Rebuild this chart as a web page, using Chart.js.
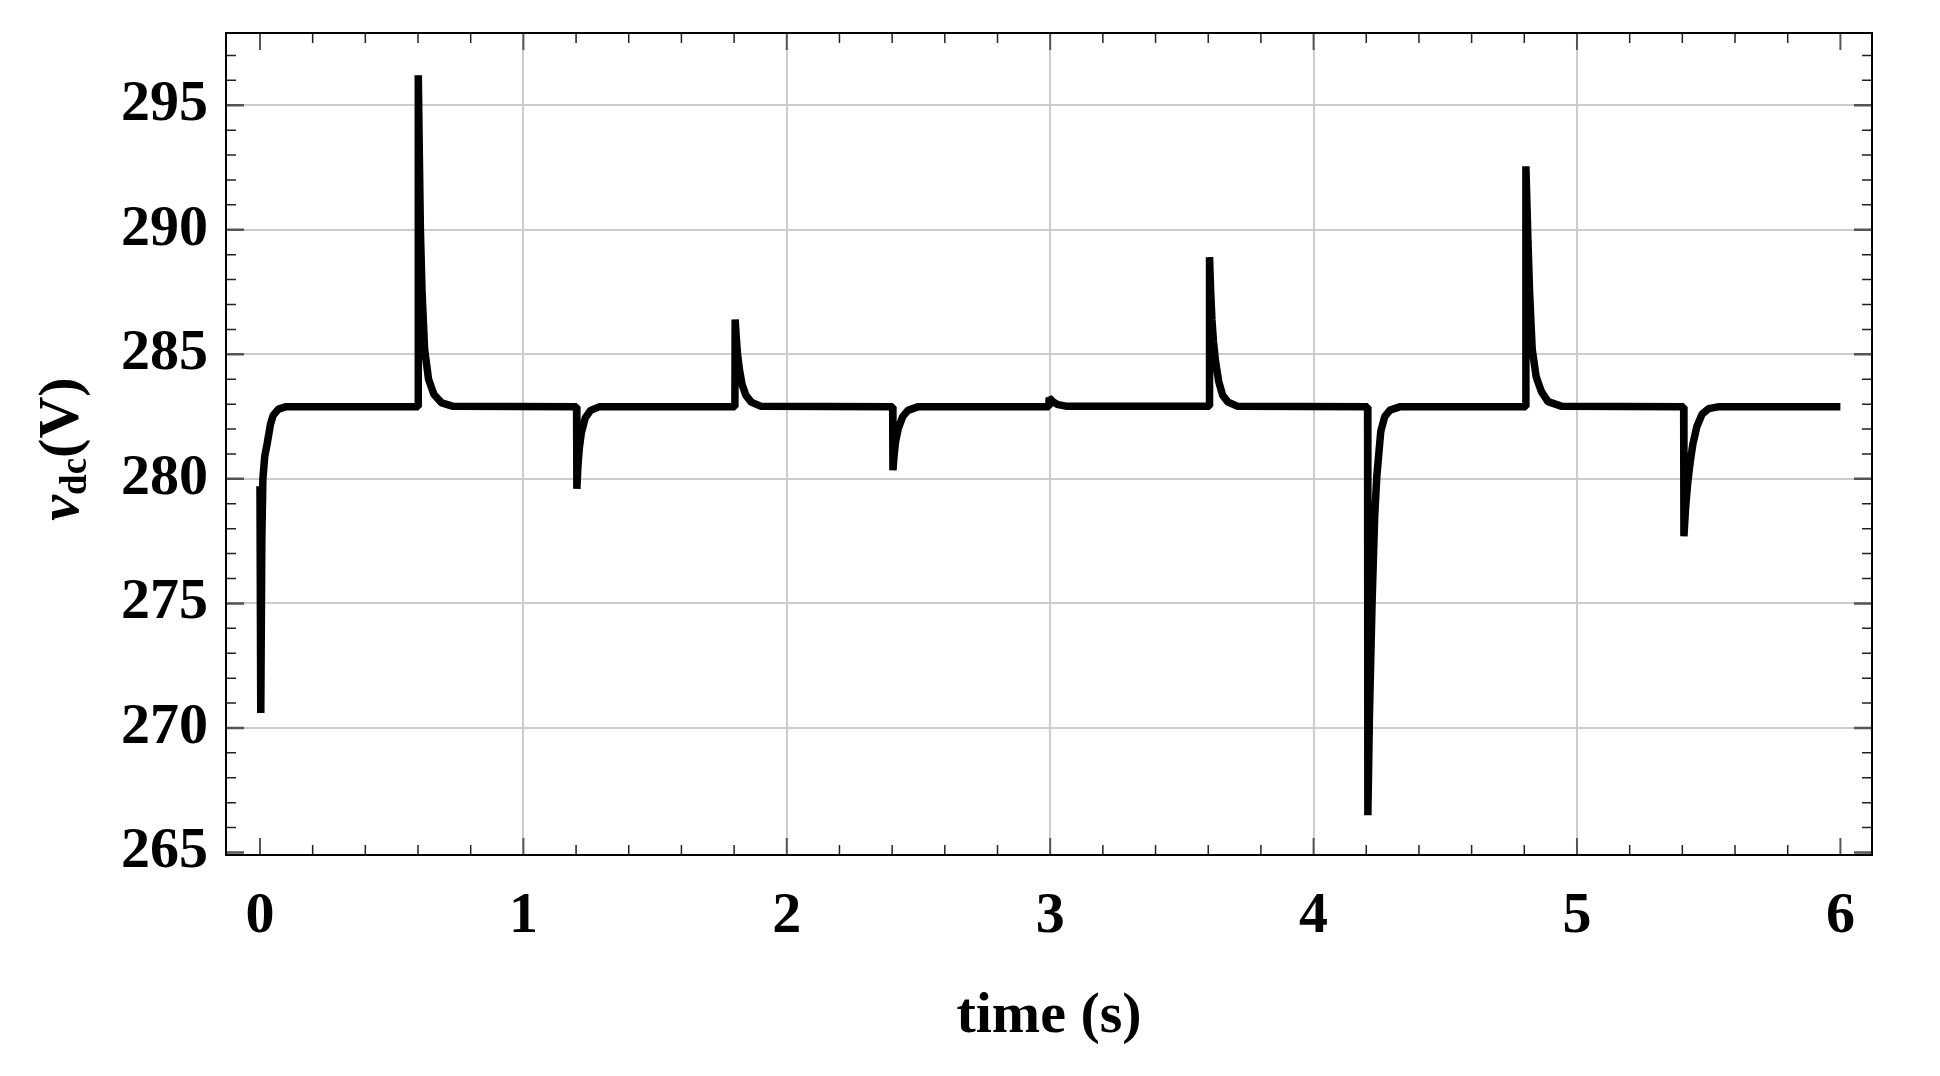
<!DOCTYPE html>
<html>
<head>
<meta charset="utf-8">
<script src="https://cdn.jsdelivr.net/npm/chart.js@4.4.0/dist/chart.umd.min.js"></script>
<style>
    html, body { margin: 0; padding: 0; background: #ffffff; }
</style>
</head>
<body>
<canvas id="vdcChart" width="1940" height="1076"></canvas>
<script>
// time (s) and dc-link voltage (V)
const timeValues = [
    0, 0.003, 0.007, 0.011, 0.018, 0.027, 0.04, 0.05, 0.07, 0.1,
    0.6, 0.601, 0.605, 0.609, 0.615, 0.625, 0.64, 0.66, 0.69, 0.73,
    1.202, 1.203, 1.207, 1.212, 1.22, 1.235, 1.255, 1.29,
    1.803, 1.804, 1.808, 1.813, 1.82, 1.83, 1.845, 1.865, 1.9,
    2.402, 2.403, 2.407, 2.413, 2.424, 2.44, 2.46, 2.5,
    2.995, 2.996, 3.01, 3.03, 3.06,
    3.604, 3.605, 3.609, 3.614, 3.62, 3.628, 3.64, 3.655, 3.675, 3.71,
    4.205, 4.206, 4.212, 4.222, 4.232, 4.24, 4.255, 4.27, 4.29, 4.33,
    4.805, 4.806, 4.81, 4.814, 4.82, 4.83, 4.845, 4.865, 4.89, 4.94,
    5.405, 5.406, 5.412, 5.42, 5.43, 5.44, 5.455, 5.475, 5.5, 5.54,
    6.0
];
const vdcValues = [
    279.7, 270.6, 277.5, 280.0, 280.9, 281.4, 282.2, 282.55, 282.8, 282.9,
    282.9, 296.2, 293.0, 290.0, 287.6, 285.2, 284.0, 283.4, 283.05, 282.92,
    282.9, 279.6, 280.5, 281.2, 281.85, 282.45, 282.75, 282.9,
    282.9, 286.4, 285.7, 285.0, 284.4, 283.8, 283.35, 283.08, 282.92,
    282.9, 280.35, 280.9, 281.5, 282.05, 282.5, 282.75, 282.9,
    282.9, 283.25, 283.1, 282.98, 282.92,
    282.92, 288.9, 287.6, 286.4, 285.5, 284.7, 283.9, 283.35, 283.08, 282.92,
    282.9, 266.5, 270.5, 275.0, 278.5, 280.1, 281.9, 282.5, 282.76, 282.9,
    282.9, 292.55, 291.0, 289.5, 287.5, 285.2, 284.1, 283.5, 283.1, 282.92,
    282.9, 277.7, 278.8, 279.8, 280.7, 281.4, 282.1, 282.6, 282.82, 282.9,
    282.9
];

const xTickValues = [0, 1, 2, 3, 4, 5, 6];
const yTickValues = [265, 270, 275, 280, 285, 290, 295];

const serif = "'Liberation Serif', 'Times New Roman', serif";

const chartData = timeValues.map((t, i) => ({x: t, y: vdcValues[i]}));

// frame box plus inward tick marks on all four sides
const frameTicks = {
    id: 'frameTicks',
    afterDraw(chart) {
        const ctx = chart.ctx;
        const area = chart.chartArea;
        const xs = chart.scales.x;
        const ys = chart.scales.y;
        ctx.save();

        // x ticks, every 0.2 s, long ones on whole seconds
        for (let k = 0; k <= 30; k++) {
            const px = xs.getPixelForValue(k / 5);
            const major = k % 5 === 0;
            const len = major ? 17 : 10;
            ctx.strokeStyle = major ? '#555555' : '#222222';
            ctx.lineWidth = major ? 2 : 1.5;
            ctx.beginPath();
            ctx.moveTo(px, area.bottom);
            ctx.lineTo(px, area.bottom - len);
            ctx.moveTo(px, area.top);
            ctx.lineTo(px, area.top + len);
            ctx.stroke();
        }

        // y ticks, every 1 V, long ones every 5 V
        for (let v = 265; v <= 297; v++) {
            const py = ys.getPixelForValue(v);
            const major = v % 5 === 0;
            const len = major ? 18 : 10;
            ctx.strokeStyle = major ? '#555555' : '#222222';
            ctx.lineWidth = major ? 2.5 : 1.5;
            ctx.beginPath();
            ctx.moveTo(area.left, py);
            ctx.lineTo(area.left + len, py);
            ctx.moveTo(area.right, py);
            ctx.lineTo(area.right - len, py);
            ctx.stroke();
        }

        ctx.strokeStyle = '#000000';
        ctx.lineWidth = 2;
        ctx.strokeRect(area.left, area.top, area.right - area.left, area.bottom - area.top);
        ctx.restore();
    }
};

// y axis title: italic v with "dc" subscript, then (V)
const yTitle = {
    id: 'yTitle',
    afterDraw(chart) {
        const ctx = chart.ctx;
        const big = 'bold 58px ' + serif;
        const bigItalic = 'italic bold 58px ' + serif;
        const small = 'bold 37px ' + serif;
        ctx.save();
        ctx.font = bigItalic;
        const w1 = ctx.measureText('v').width;
        ctx.font = small;
        const w2 = ctx.measureText('dc').width;
        ctx.font = big;
        const w3 = ctx.measureText('(V)').width;
        const total = w1 + w2 + w3;

        ctx.translate(78, 449);
        ctx.rotate(-Math.PI / 2);
        ctx.fillStyle = '#000000';
        ctx.textBaseline = 'alphabetic';
        ctx.textAlign = 'left';
        let x = -total / 2;
        ctx.font = bigItalic;
        ctx.fillText('v', x, 0);
        x += w1;
        ctx.font = small;
        ctx.fillText('dc', x, 8);
        x += w2;
        ctx.font = big;
        ctx.fillText('(V)', x, 0);
        ctx.restore();
    }
};

const ctx = document.getElementById('vdcChart').getContext('2d');
const myChart = new Chart(ctx, {
    type: 'line',
    data: {
        datasets: [{
            data: chartData,
            borderColor: '#000000',
            borderWidth: 7.5,
            borderJoinStyle: 'bevel',
            pointRadius: 0,
            tension: 0,
            fill: false,
        }],
    },
    options: {
        responsive: false,
        animation: false,
        layout: {
            padding: {left: 0, top: 33, right: 68, bottom: 24},
        },
        scales: {
            x: {
                type: 'linear',
                min: -0.129,
                max: 6.12,
                afterBuildTicks: axis => axis.ticks = xTickValues.map(v => ({value: v})),
                afterFit: scale => {
                    scale.height = 197;
                    scale.paddingLeft = 0;
                    scale.paddingRight = 0;
                },
                border: {display: false},
                grid: {
                    drawTicks: false,
                    lineWidth: 2,
                    color: c => (c.tick && (c.tick.value === 0 || c.tick.value === 6)) ? 'rgba(0,0,0,0)' : '#cccccc',
                },
                ticks: {
                    color: '#000000',
                    padding: 27,
                    maxRotation: 0,
                    font: {family: serif, weight: 'bold', size: 58},
                },
                title: {
                    display: true,
                    text: 'time (s)',
                    color: '#000000',
                    padding: 0,
                    font: {family: serif, weight: 'bold', size: 58},
                },
            },
            y: {
                min: 264.9,
                max: 297.9,
                afterBuildTicks: axis => axis.ticks = yTickValues.map(v => ({value: v})),
                afterFit: scale => {
                    scale.width = 226;
                    scale.paddingTop = 0;
                    scale.paddingBottom = 0;
                },
                border: {display: false},
                grid: {
                    drawTicks: false,
                    lineWidth: 2,
                    color: c => (c.tick && c.tick.value === 265) ? 'rgba(0,0,0,0)' : '#cccccc',
                },
                ticks: {
                    color: '#000000',
                    padding: 18,
                    font: {family: serif, weight: 'bold', size: 58},
                },
            },
        },
        plugins: {
            legend: {display: false},
            tooltip: {enabled: false},
        },
    },
    plugins: [frameTicks, yTitle],
});
</script>
</body>
</html>
